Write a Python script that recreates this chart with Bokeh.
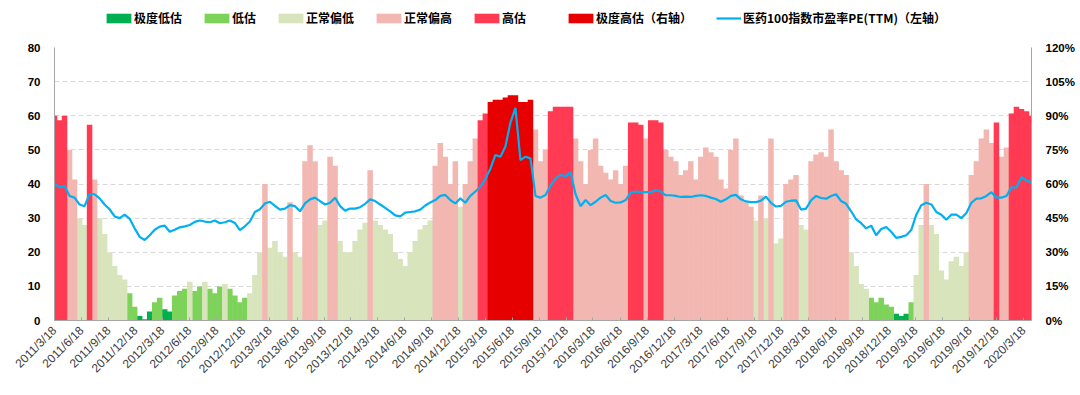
import pandas as pd
from bokeh.plotting import figure
from bokeh.layouts import column
from bokeh.models import (Range1d, LinearAxis, FixedTicker, Legend, LegendItem,
                          ColumnDataSource, PrintfTickFormatter)
from bokeh.embed import file_html
from bokeh.resources import INLINE
from math import pi

# ---------------- data ----------------
start_date = "2011-03-18"
step = "17D"

# PE(TTM) of 医药100 index (left axis)
pe = [40.1, 39.0, 39.5, 36.5, 36.0, 34.0, 33.5, 37.0, 37.0, 35.8,
      34.0, 32.6, 30.5, 30.0, 31.0, 29.8, 27.0, 24.5, 23.6, 25.0,
      26.6, 27.5, 27.8, 26.0, 26.6, 27.3, 27.6, 28.0, 28.9, 29.3,
      29.0, 28.8, 29.3, 28.5, 28.8, 29.3, 28.6, 26.5, 27.6, 29.0,
      31.8, 32.6, 34.3, 34.8, 33.6, 32.5, 32.8, 33.8, 33.5, 32.0,
      34.3, 35.5, 36.0, 35.0, 34.0, 34.5, 36.0, 33.5, 32.2, 32.8,
      32.8, 33.2, 34.2, 35.5, 35.0, 34.0, 33.0, 32.0, 30.8, 30.5,
      31.6, 31.8, 32.0, 32.5, 33.7, 34.6, 35.3, 36.5, 36.8, 35.3,
      34.3, 35.8, 34.5, 36.5, 37.8, 39.2, 41.5, 44.5, 48.5, 48.0,
      51.0, 58.0, 62.3, 47.0, 48.0, 47.5, 36.5, 36.0, 36.8, 39.5,
      41.6, 42.7, 42.2, 43.5, 37.0, 33.5, 35.3, 33.8, 34.8, 36.0,
      36.8, 35.0, 34.5, 34.6, 35.3, 37.5, 37.8, 37.6, 37.6, 37.6,
      38.2, 37.8, 36.7, 36.7, 36.5, 36.2, 36.3, 36.2, 36.5, 36.7,
      36.5, 36.0, 35.6, 34.8, 35.5, 36.5, 36.8, 35.5, 34.9, 34.7,
      34.7, 35.1, 36.3, 34.5, 33.4, 33.6, 34.8, 35.1, 35.2, 32.5,
      32.8, 35.2, 36.5, 35.9, 35.7, 36.5, 37.0, 35.0, 34.2, 32.0,
      29.6, 28.5, 27.0, 27.8, 25.0, 26.8, 27.4, 26.0, 24.2, 24.5,
      25.0, 26.5, 31.0, 33.8, 34.5, 34.0, 31.8, 31.0, 29.5, 31.0,
      31.0, 30.0, 31.5, 34.5, 35.7, 35.8, 36.5, 37.6, 36.0, 36.0,
      36.5, 39.0, 39.0, 42.0, 41.0, 40.5]

# PE percentile, % (right axis)
pct = [90, 88, 90, 75, 62, 45, 42, 86, 62, 45,
       38, 30, 24, 20, 18, 12, 6, 2, 0.5, 4,
       8, 10, 5, 4, 11, 13, 14, 17, 13, 15,
       17, 14, 12, 15, 16, 14, 11, 8, 10, 12,
       20, 30, 60, 32, 35, 30, 28, 52, 30, 28,
       70, 77, 70, 42, 44, 72, 68, 35, 30, 30,
       35, 40, 43, 66, 44, 42, 40, 38, 30, 27,
       24, 30, 35, 40, 42, 44, 68, 78, 72, 60,
       70, 50, 60, 70, 80, 88, 91, 96, 97, 97,
       98, 99, 99, 96, 96, 97, 84, 70, 75, 92,
       94, 94, 94, 94, 80, 70, 60, 75, 80, 68,
       65, 62, 66, 60, 68, 87, 87, 86, 80, 88,
       88, 87, 75, 72, 70, 64, 66, 70, 62, 72,
       76, 74, 72, 62, 58, 75, 80, 55, 52, 50,
       44, 55, 45, 80, 34, 36, 60, 62, 64, 42,
       40, 70, 73, 74, 72, 84, 70, 66, 64, 30,
       24, 16, 14, 10, 8, 10, 7, 6, 3, 2,
       3, 8, 20, 42, 60, 42, 38, 22, 18, 26,
       28, 24, 30, 64, 70, 80, 84, 78, 87, 72,
       76, 91, 94, 93, 92, 90]

# valuation zone of each point
zone = list("HHHPPNNHPN" "NNNNNLLEEE" "LLEELLLNLL" "NLLLNLLLLN"
            "NNPNNNNPNN" "PPPNNPPNNN" "NNNPNNNNNN" "NNNNNNPPPP"
            "PNPPPHHXXX" "XXXXXXPPPH" "HHHHPPPPPP" "PPPPPHHHPH"
            "HHPPPPPPPP" "PPPPPPPPPP" "NPNPNNPPPN" "NPPPPPPPPN"
            "NNNLLLLLEE" "ELNNPNNNNN" "NNNPPPPPHP" "PHHHHH")

zone_codes = ["E", "L", "N", "P", "H", "X"]
zone_names = ["极度低估", "低估", "正常偏低", "正常偏高", "高估", "极度高估（右轴）"]
zone_colors = ["#00B050", "#7DD35A", "#D8E4BC", "#F2B7B1", "#FF3A52", "#E60000"]
line_name = "医药100指数市盈率PE(TTM)（左轴）"
line_color = "#00B0F0"

tick_labels = ["2011/3/18", "2011/6/18", "2011/9/18", "2011/12/18",
               "2012/3/18", "2012/6/18", "2012/9/18", "2012/12/18",
               "2013/3/18", "2013/6/18", "2013/9/18", "2013/12/18",
               "2014/3/18", "2014/6/18", "2014/9/18", "2014/12/18",
               "2015/3/18", "2015/6/18", "2015/9/18", "2015/12/18",
               "2016/3/18", "2016/6/18", "2016/9/18", "2016/12/18",
               "2017/3/18", "2017/6/18", "2017/9/18", "2017/12/18",
               "2018/3/18", "2018/6/18", "2018/9/18", "2018/12/18",
               "2019/3/18", "2019/6/18", "2019/9/18", "2019/12/18",
               "2020/3/18"]

# ---------------- build ----------------
t0 = pd.Timestamp(start_date)
dates = pd.date_range(t0, periods=len(pe), freq=step)
xd = [(d - t0).days for d in dates]
step_days = xd[1] - xd[0]
tick_pos = [(pd.Timestamp(s.replace("/", "-")) - t0).days for s in tick_labels]

W = 1080
p = figure(width=W, height=356, x_range=Range1d(0, xd[-1]), y_range=Range1d(0, 80),
           output_backend="svg", toolbar_location=None,
           min_border_left=54, min_border_right=49, min_border_top=8, min_border_bottom=75)
p.extra_y_ranges = {"pct": Range1d(0, 120)}
p.outline_line_color = None
p.background_fill_color = "white"

for code, color in zip(zone_codes, zone_colors):
    idx = [i for i, z in enumerate(zone) if z == code]
    src = ColumnDataSource(dict(x=[xd[i] for i in idx], top=[pct[i] for i in idx]))
    p.vbar(x="x", top="top", bottom=0, width=step_days * 1.1, source=src,
           fill_color=color, line_color=None, y_range_name="pct")

p.line(xd, pe, line_color=line_color, line_width=2.2)

# axes
p.yaxis.ticker = FixedTicker(ticks=list(range(0, 81, 10)))
p.ygrid.ticker = FixedTicker(ticks=list(range(10, 81, 10)))
p.ygrid.grid_line_color = "#D9D9D9"
p.ygrid.grid_line_dash = "5 3"
p.xgrid.visible = False

ra = LinearAxis(y_range_name="pct", ticker=FixedTicker(ticks=list(range(0, 121, 15))),
                formatter=PrintfTickFormatter(format="%d%%"))
p.add_layout(ra, "right")

for ax in [p.yaxis[0], ra]:
    ax.axis_line_color = "#A6A6A6"
    ax.major_tick_line_color = None
    ax.major_tick_out = 0
    ax.major_tick_in = 0
    ax.minor_tick_line_color = None
    ax.minor_tick_out = 0
    ax.major_label_text_font = "Liberation Sans"
    ax.major_label_text_font_style = "bold"
    ax.major_label_text_font_size = "11.5px"
    ax.major_label_text_color = "#000000"
    ax.major_label_standoff = 14

xa = p.xaxis[0]
xa.ticker = FixedTicker(ticks=tick_pos)
xa.major_label_overrides = {t: s for t, s in zip(tick_pos, tick_labels)}
xa.major_label_orientation = pi / 4
xa.axis_line_color = "#A6A6A6"
xa.major_tick_line_color = "#A6A6A6"
xa.major_tick_in = 3
xa.major_tick_out = 0
xa.minor_tick_line_color = None
xa.major_label_text_font = "Liberation Sans"
xa.major_label_text_font_size = "12px"
xa.major_label_text_color = "#404040"
xa.major_label_standoff = 8

# ---------------- legend strip ----------------
lg = figure(width=W, height=39, x_range=Range1d(0, 1), y_range=Range1d(0, 1),
            output_backend="svg", toolbar_location=None,
            min_border_left=0, min_border_right=0, min_border_top=0, min_border_bottom=0)
lg.axis.visible = False
lg.grid.visible = False
lg.outline_line_color = None

items = []
for name, color in zip(zone_names, zone_colors):
    r = lg.vbar(x=[-10], top=[-5], bottom=[-6], width=0.1, fill_color=color, line_color=None)
    items.append(LegendItem(label=name, renderers=[r]))
rl = lg.line(x=[-10, -9], y=[-5, -5], line_color=line_color, line_width=2.2)
items.append(LegendItem(label=line_name, renderers=[rl]))

common = dict(orientation="horizontal", glyph_height=12, label_height=12,
              padding=0, margin=0, border_line_color=None,
              background_fill_alpha=0, label_text_font="Noto Sans CJK SC",
              label_text_font_style="bold", label_text_font_size="12px",
              label_text_color="#000000")
# the legend strip's frame is aligned with the chart frame (starts at x=54)
legend_a = Legend(items=items[:5], location=(49, 13), spacing=19, glyph_width=31,
                  label_standoff=0, **common)
legend_b = Legend(items=items[5:6], location=(511, 13), glyph_width=31,
                  label_standoff=0, **common)
legend_c = Legend(items=items[6:], location=(662, 13), glyph_width=25,
                  label_standoff=2, **common)
lg.add_layout(legend_a)
lg.add_layout(legend_b)
lg.add_layout(legend_c)

layout = column(lg, p, spacing=0)
open("out.html", "w").write(file_html(layout, INLINE))
